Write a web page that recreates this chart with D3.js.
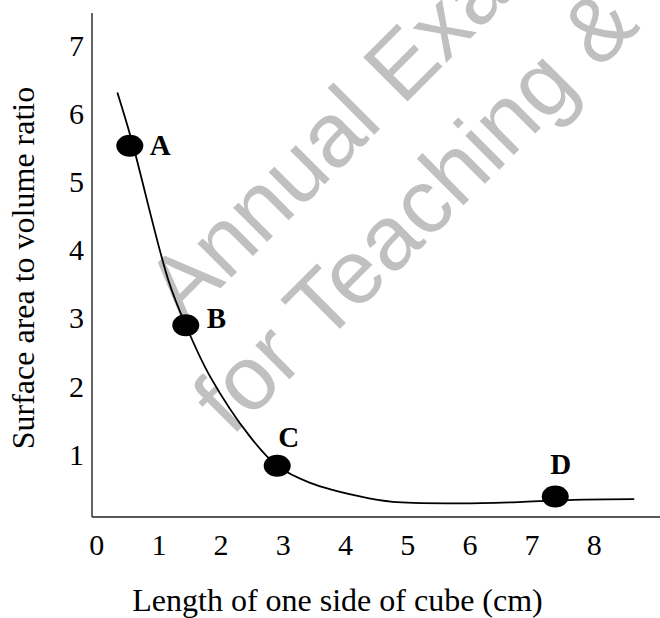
<!DOCTYPE html>
<html>
<head>
<meta charset="utf-8">
<script src="https://cdn.jsdelivr.net/npm/d3@7"></script>
<style>
  html, body { margin: 0; padding: 0; background: #fff; }
  svg { display: block; }
</style>
</head>
<body>
<svg id="chart" width="660" height="618"></svg>
<script>
// Measured points on the cube curve
const pointLabels = ["A", "B", "C", "D"];
const pointSide   = [0.54, 1.44, 2.91, 7.38];
const pointRatio  = [5.53, 2.90, 0.84, 0.39];

// Hand-drawn trend line through the points
const curveSide  = [0.34, 0.57, 1.16, 1.44, 1.83, 2.47, 2.91, 3.44, 4.24, 4.77, 5.85, 6.86, 7.67, 8.65];
const curveRatio = [6.31, 5.61, 3.56, 2.90, 2.15, 1.27, 0.84, 0.59, 0.39, 0.31, 0.29, 0.31, 0.34, 0.35];

// Axis tick values
const xTicks = [0, 1, 2, 3, 4, 5, 6, 7, 8];
const yTicks = [1, 2, 3, 4, 5, 6, 7];

const xTitle = "Length of one side of cube (cm)";
const yTitle = "Surface area to volume ratio";
const watermarkLines = ["Annual Examination Papers", "for Teaching & Learning"];

// Layout
const axisLeft = 92, axisRight = 660, axisTop = 13, axisBottom = 517;
const serif = "'Liberation Serif', 'Times New Roman', Times, serif";
const sans = "'Liberation Sans', Arial, Helvetica, sans-serif";
// label offsets from each point centre (text start, baseline)
const labelOffset = { A: [20, 9], B: [21, 3], C: [1, -19], D: [-5, -22] };
// watermark line origins in the rotated frame
const watermarkOffset = [[0, 0], [-46, 113]];

const svg = d3.select("#chart");

const x = d3.scaleLinear().domain([0, 8]).range([96.2, 593.8]);
const y = d3.scaleLinear().domain([0, 7]).range([523.1, 45.4]);

// Watermark
const wm = svg.append("g")
  .attr("transform", "translate(184,325) rotate(-45)")
  .attr("fill", "#c0c0c0")
  .attr("font-family", sans)
  .attr("font-size", 91);
wm.selectAll("text")
  .data(watermarkLines)
  .join("text")
  .attr("x", (d, i) => watermarkOffset[i][0])
  .attr("y", (d, i) => watermarkOffset[i][1])
  .text(d => d);

// Axes
const gx = svg.append("g")
  .attr("transform", `translate(0,${axisBottom})`)
  .call(d3.axisBottom(x).tickValues(xTicks).tickSize(0).tickPadding(17).tickFormat(d3.format("d")))
  .attr("font-family", serif)
  .attr("font-size", 30);
gx.select(".domain").remove();
gx.selectAll("text").attr("fill", "#000");

const gy = svg.append("g")
  .attr("transform", `translate(${axisLeft},0)`)
  .call(d3.axisLeft(y).tickValues(yTicks).tickSize(0).tickPadding(8).tickFormat(d3.format("d")))
  .attr("font-family", serif)
  .attr("font-size", 30);
gy.select(".domain").remove();
gy.selectAll("text").attr("fill", "#000");

svg.append("line")
  .attr("x1", axisLeft).attr("x2", axisRight)
  .attr("y1", axisBottom).attr("y2", axisBottom)
  .attr("stroke", "#222").attr("stroke-width", 1.4);
svg.append("line")
  .attr("x1", axisLeft).attr("x2", axisLeft)
  .attr("y1", axisTop).attr("y2", axisBottom)
  .attr("stroke", "#222").attr("stroke-width", 1.4);

// Axis titles
svg.append("text")
  .attr("x", 337.5).attr("y", 611)
  .attr("text-anchor", "middle")
  .attr("font-family", serif)
  .attr("font-size", 32)
  .text(xTitle);

svg.append("text")
  .attr("transform", "translate(34,268) rotate(-90)")
  .attr("text-anchor", "middle")
  .attr("font-family", serif)
  .attr("font-size", 32)
  .text(yTitle);

// Trend curve
const curveData = curveSide.map((s, i) => [s, curveRatio[i]]);
svg.append("path")
  .datum(curveData)
  .attr("fill", "none")
  .attr("stroke", "#000")
  .attr("stroke-width", 1.8)
  .attr("d", d3.line()
    .x(d => x(d[0]))
    .y(d => y(d[1]))
    .curve(d3.curveCatmullRom.alpha(0.5)));

// Points and their letters
const pts = pointLabels.map((l, i) => ({ label: l, side: pointSide[i], ratio: pointRatio[i] }));
svg.selectAll("ellipse.pt")
  .data(pts)
  .join("ellipse")
  .attr("class", "pt")
  .attr("cx", d => x(d.side))
  .attr("cy", d => y(d.ratio))
  .attr("rx", 13.5)
  .attr("ry", 11)
  .attr("fill", "#000");

svg.selectAll("text.pt-label")
  .data(pts)
  .join("text")
  .attr("class", "pt-label")
  .attr("x", d => x(d.side) + labelOffset[d.label][0])
  .attr("y", d => y(d.ratio) + labelOffset[d.label][1])
  .attr("font-family", serif)
  .attr("font-size", 29)
  .attr("font-weight", "bold")
  .text(d => d.label);
</script>
</body>
</html>
